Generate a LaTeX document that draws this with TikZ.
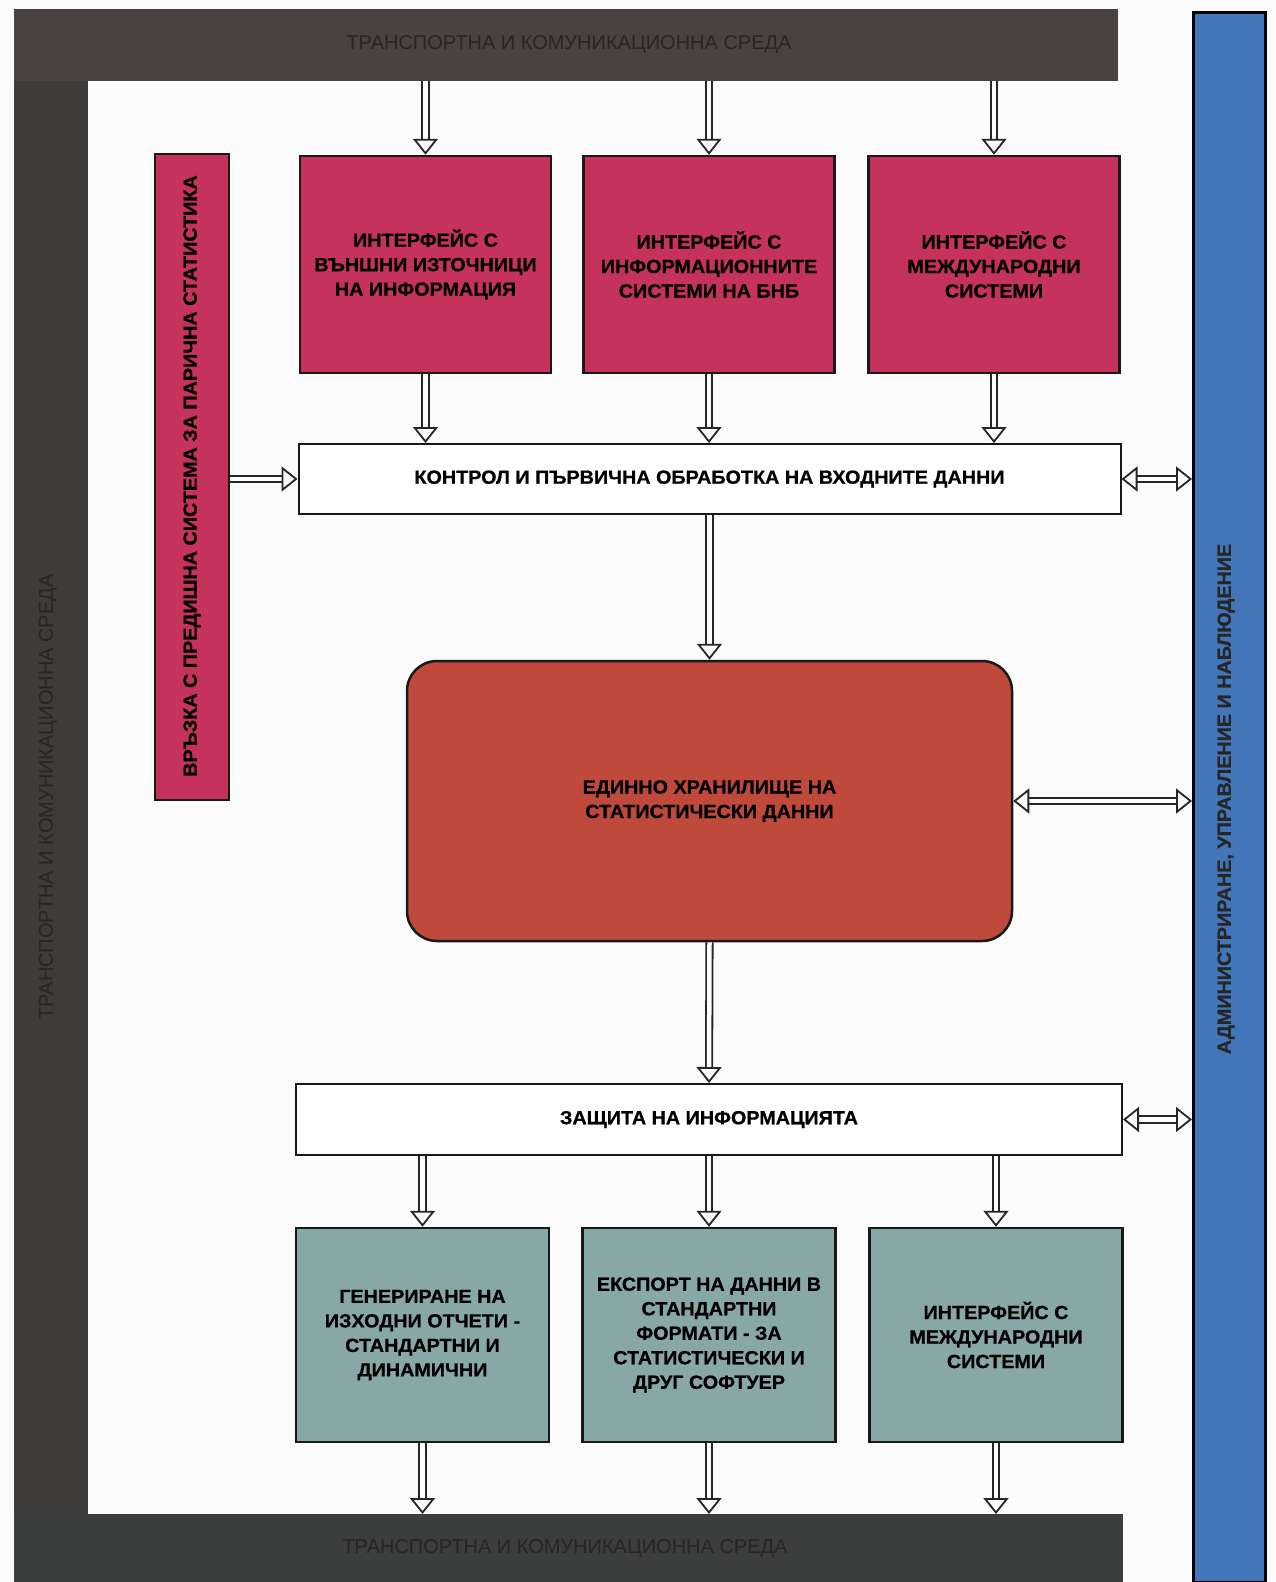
\documentclass[tikz,border=0pt]{standalone}
\usepackage{fontspec}
\setmainfont{Liberation Sans}
\newfontfamily\condf[FakeStretch=1.04, BoldFeatures={FakeBold=0.8}]{Liberation Sans}
\usetikzlibrary{arrows.meta}
\definecolor{frameA}{HTML}{4A4242}
\definecolor{frameB}{HTML}{3E3B3B}
\definecolor{frameC}{HTML}{3C3D3D}
\definecolor{frametext}{HTML}{2A2424}
\definecolor{bluec}{HTML}{4376B8}
\definecolor{pinkc}{HTML}{C5325C}
\definecolor{brickc}{HTML}{BF4A3C}
\definecolor{tealc}{HTML}{88A8A8}
\definecolor{paper}{HTML}{FBFBFB}
\tikzset{
  bar/.style={draw=none, inner sep=0pt, font=\fontsize{20}{24}\selectfont, text=frametext},
  boxfont/.style={font=\condf\bfseries\fontsize{19}{24.5}\selectfont},
  box/.style={draw=black!90, line width=2.5pt, inner sep=0pt, align=center, boxfont, text=black},
  pinkbox/.style={box, fill=pinkc, minimum width=251, minimum height=217},
  tealbox/.style={box, fill=tealc, minimum width=253, minimum height=214},
  widebox/.style={box, fill=white, line width=2pt, minimum width=822, minimum height=70},
  tipx/.tip={Triangle[open, length=16pt, width=25pt, line width=1.8pt]},
  harrow/.style={draw=black!85, double=white, double distance=4.5pt, line width=1.8pt, -tipx},
  hharrow/.style={harrow, tipx-tipx},
}
\begin{document}
\begin{tikzpicture}[x=1pt,y=-1pt]
\useasboundingbox (0,0) rectangle (1276,1582);
\fill[paper] (0,0) rectangle (1276,1582);
% frame bars
\node[bar, fill=frameB, minimum width=74, minimum height=1573, anchor=north west] (leftbar) at (14,9) {};
\node[bar, fill=frameA, minimum width=1104, minimum height=72, anchor=north west] (topbar) at (14,9) {};
\node[bar, fill=frameC, minimum width=1109, minimum height=68, anchor=north west] (botbar) at (14,1514) {};
\node[bar] at (569,45) {ТРАНСПОРТНА И КОМУНИКАЦИОННА СРЕДА};
\node[bar] at (565,1548) {ТРАНСПОРТНА И КОМУНИКАЦИОННА СРЕДА};
\node[bar, rotate=90] at (48,797) {ТРАНСПОРТНА И КОМУНИКАЦИОННА СРЕДА};
% blue bar
\node[draw=black, line width=2.5pt, fill=bluec, minimum width=72, minimum height=1570, anchor=north west,
  inner sep=0pt] (blue) at (1192,11) {};
\node[rotate=90, boxfont, text=black!85] at (1226,799) {АДМИНИСТРИРАНЕ, УПРАВЛЕНИЕ И НАБЛЮДЕНИЕ};
% left pink box
\node[box, fill=pinkc, minimum width=74, minimum height=646] (lp) at (192,477) {};
\node[rotate=90, boxfont] at (192,476) {ВРЪЗКА С ПРЕДИШНА СИСТЕМА ЗА ПАРИЧНА СТАТИСТИКА};
% top boxes
\node[pinkbox] (t1) at (425.5,264.5) {ИНТЕРФЕЙС С\\ВЪНШНИ ИЗТОЧНИЦИ\\НА ИНФОРМАЦИЯ};
\node[pinkbox] (t2) at (709,264.5) {ИНТЕРФЕЙС С\\ИНФОРМАЦИОННИТЕ\\СИСТЕМИ НА БНБ};
\node[pinkbox] (t3) at (994,264.5) {ИНТЕРФЕЙС С\\МЕЖДУНАРОДНИ\\СИСТЕМИ};
% control box
\node[widebox] (ctrl) at (709.5,479) {КОНТРОЛ И ПЪРВИЧНА ОБРАБОТКА НА ВХОДНИТЕ ДАННИ};
% storage
\node[box, fill=brickc, rounded corners=30pt, minimum width=605, minimum height=280] (st) at (709.5,801)
  {ЕДИННО ХРАНИЛИЩЕ НА\\СТАТИСТИЧЕСКИ ДАННИ};
% protection
\node[widebox, minimum width=826, minimum height=71] (prot) at (709,1119.5) {ЗАЩИТА НА ИНФОРМАЦИЯТА};
% bottom boxes
\node[tealbox] (o1) at (422.5,1335) {ГЕНЕРИРАНЕ НА\\ИЗХОДНИ ОТЧЕТИ -\\СТАНДАРТНИ И\\ДИНАМИЧНИ};
\node[tealbox] (o2) at (709,1335) {ЕКСПОРТ НА ДАННИ В\\СТАНДАРТНИ\\ФОРМАТИ - ЗА\\СТАТИСТИЧЕСКИ И\\ДРУГ СОФТУЕР};
\node[tealbox] (o3) at (996,1335) {ИНТЕРФЕЙС С\\МЕЖДУНАРОДНИ\\СИСТЕМИ};
% arrows
\foreach \b in {t1,t2,t3} {
  \draw[harrow] (\b.north |- topbar.south) -- (\b.north);
  \draw[harrow] (\b.south) -- (\b.south |- ctrl.north);
}
\draw[harrow] (lp.east |- ctrl.west) -- (ctrl.west);
\draw[harrow] (ctrl.south) -- (st.north);
\draw[harrow] (st.south) -- (prot.north);
\draw[hharrow] (ctrl.east) -- (ctrl.east -| blue.west);
\draw[hharrow] (st.east) -- (st.east -| blue.west);
\draw[hharrow] (prot.east) -- (prot.east -| blue.west);
\foreach \b in {o1,o2,o3} {
  \draw[harrow] (\b.north |- prot.south) -- (\b.north);
  \draw[harrow] (\b.south) -- (\b.south |- botbar.north);
}
\end{tikzpicture}
\end{document}
